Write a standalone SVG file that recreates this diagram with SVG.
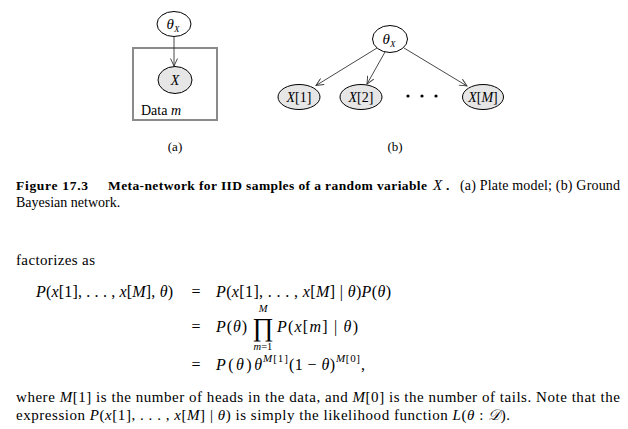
<svg xmlns="http://www.w3.org/2000/svg" width="628" height="429" viewBox="0 0 628 429">
<style>
  .node { stroke: #000; stroke-width: 1; }
  .obs { fill: #e6e6e6; }
  .par { fill: #fff; }
  .edge { stroke: #333; stroke-width: 0.9; fill: none; marker-end: url(#arr); }
  .t { font-family: "Liberation Serif", "DejaVu Serif", serif; fill: #000; }
  .i { font-style: italic; }
  .b { font-weight: bold; }
</style>
<defs>
  <marker id="arr" markerWidth="9" markerHeight="8" refX="8" refY="4" orient="auto" markerUnits="userSpaceOnUse">
    <path d="M0.5,0.5 L8,4 L0.5,7.5" fill="none" stroke="#333" stroke-width="0.9"/>
  </marker>
</defs>
<rect width="628" height="429" fill="#fff"/>

<!-- (a) plate model -->
<g id="plate-a">
  <rect x="133" y="48" width="84" height="72" fill="none" stroke="#8a8a8a" stroke-width="2"/>
  <text class="t" x="141" y="115" font-size="14">Data <tspan class="i">m</tspan></text>
</g>
<g id="a-theta">
  <ellipse class="node par" cx="174" cy="24" rx="17" ry="12.5"/>
  <text class="t i" x="166.5" y="29" font-size="15">θ<tspan font-size="9" dy="3">X</tspan></text>
</g>
<g id="a-X">
  <ellipse class="node obs" cx="175" cy="80" rx="17" ry="13.5"/>
  <text class="t i" x="175" y="85" font-size="14" text-anchor="middle">X</text>
</g>
<text class="t" x="175" y="151" font-size="13" text-anchor="middle">(a)</text>

<!-- (b) ground network -->
<g id="b-theta">
  <ellipse class="node par" cx="390" cy="39" rx="17.5" ry="13.5"/>
  <text class="t i" x="382.5" y="44" font-size="15">θ<tspan font-size="9" dy="3">X</tspan></text>
</g>
<g id="b-X1">
  <ellipse class="node obs" cx="299" cy="97" rx="21" ry="12.5"/>
  <text class="t" x="299" y="102" font-size="14" text-anchor="middle"><tspan class="i">X</tspan>[1]</text>
</g>
<g id="b-X2">
  <ellipse class="node obs" cx="361" cy="97" rx="21" ry="12.5"/>
  <text class="t" x="361" y="102" font-size="14" text-anchor="middle"><tspan class="i">X</tspan>[2]</text>
</g>
<g id="b-XM">
  <ellipse class="node obs" cx="483" cy="97" rx="20.5" ry="12.5"/>
  <text class="t" x="483" y="102" font-size="14" text-anchor="middle"><tspan class="i">X</tspan>[<tspan class="i">M</tspan>]</text>
</g>
<g id="dots">
  <circle cx="408" cy="96" r="1.6" fill="#000"/>
  <circle cx="422" cy="96" r="1.6" fill="#000"/>
  <circle cx="436" cy="96" r="1.6" fill="#000"/>
</g>
<text class="t" x="395" y="151" font-size="13" text-anchor="middle">(b)</text>

<g id="connectors">
  <line class="edge" x1="174" y1="36.5" x2="174" y2="66"/>
  <line class="edge" x1="377" y1="48" x2="316" y2="85.5"/>
  <line class="edge" x1="385" y1="52" x2="367" y2="84"/>
  <line class="edge" x1="404" y1="48" x2="467" y2="86"/>
</g>

<!-- caption -->
<text class="t b" x="16" y="190" font-size="13.5" textLength="72" lengthAdjust="spacing">Figure 17.3</text>
<text class="t b" x="108" y="190" font-size="13.5" textLength="319" lengthAdjust="spacing">Meta-network for IID samples of a random variable</text>
<text class="t i" x="433" y="190" font-size="15">X</text>
<text class="t b" x="446" y="190" font-size="13.5">.</text>
<text class="t" x="460" y="190" font-size="14" textLength="160" lengthAdjust="spacing">(a) Plate model; (b) Ground</text>
<text class="t" x="16" y="207" font-size="14">Bayesian network.</text>

<!-- body -->
<text class="t" x="16" y="265" font-size="15" textLength="79" lengthAdjust="spacing">factorizes as</text>

<text class="t" x="36" y="297" font-size="16" textLength="137" lengthAdjust="spacing"><tspan class="i">P</tspan>(<tspan class="i">x</tspan>[1], . . . , <tspan class="i">x</tspan>[<tspan class="i">M</tspan>], <tspan class="i">θ</tspan>)</text>
<text class="t" x="196" y="297" font-size="16" text-anchor="middle">=</text>
<text class="t" x="216" y="297" font-size="16" textLength="175" lengthAdjust="spacing"><tspan class="i">P</tspan>(<tspan class="i">x</tspan>[1], . . . , <tspan class="i">x</tspan>[<tspan class="i">M</tspan>] | <tspan class="i">θ</tspan>)<tspan class="i">P</tspan>(<tspan class="i">θ</tspan>)</text>

<text class="t" x="196" y="332" font-size="16" text-anchor="middle">=</text>
<text class="t" x="216" y="332" font-size="16" textLength="31" lengthAdjust="spacing"><tspan class="i">P</tspan>(<tspan class="i">θ</tspan>)</text>
<text class="t" x="263" y="336" font-size="26" text-anchor="middle">∏</text>
<text class="t i" x="263" y="312" font-size="10.5" text-anchor="middle">M</text>
<text class="t" x="263" y="350" font-size="10.5" text-anchor="middle"><tspan class="i">m</tspan>=1</text>
<text class="t" x="277" y="332" font-size="16" textLength="81" lengthAdjust="spacing"><tspan class="i">P</tspan>(<tspan class="i">x</tspan>[<tspan class="i">m</tspan>] | <tspan class="i">θ</tspan>)</text>

<text class="t" x="196" y="370" font-size="16" text-anchor="middle">=</text>
<text class="t" x="216" y="370" font-size="16" textLength="46" lengthAdjust="spacing"><tspan class="i">P</tspan>(<tspan class="i">θ</tspan>)<tspan class="i">θ</tspan></text>
<text class="t" x="263" y="362" font-size="11" textLength="25" lengthAdjust="spacing"><tspan class="i">M</tspan>[1]</text>
<text class="t" x="289" y="370" font-size="16" textLength="46" lengthAdjust="spacing">(1 − <tspan class="i">θ</tspan>)</text>
<text class="t" x="336" y="362" font-size="11" textLength="24" lengthAdjust="spacing"><tspan class="i">M</tspan>[0]</text>
<text class="t" x="361" y="370" font-size="16">,</text>

<text class="t" x="16" y="402" font-size="15" textLength="604" lengthAdjust="spacing">where <tspan class="i">M</tspan>[1] is the number of heads in the data, and <tspan class="i">M</tspan>[0] is the number of tails. Note that the</text>
<text class="t" x="16" y="420" font-size="15" textLength="494" lengthAdjust="spacing">expression <tspan class="i">P</tspan>(<tspan class="i">x</tspan>[1], . . . , <tspan class="i">x</tspan>[<tspan class="i">M</tspan>] | <tspan class="i">θ</tspan>) is simply the likelihood function <tspan class="i">L</tspan>(<tspan class="i">θ</tspan> : <tspan class="i">𝒟</tspan>).</text>
</svg>
